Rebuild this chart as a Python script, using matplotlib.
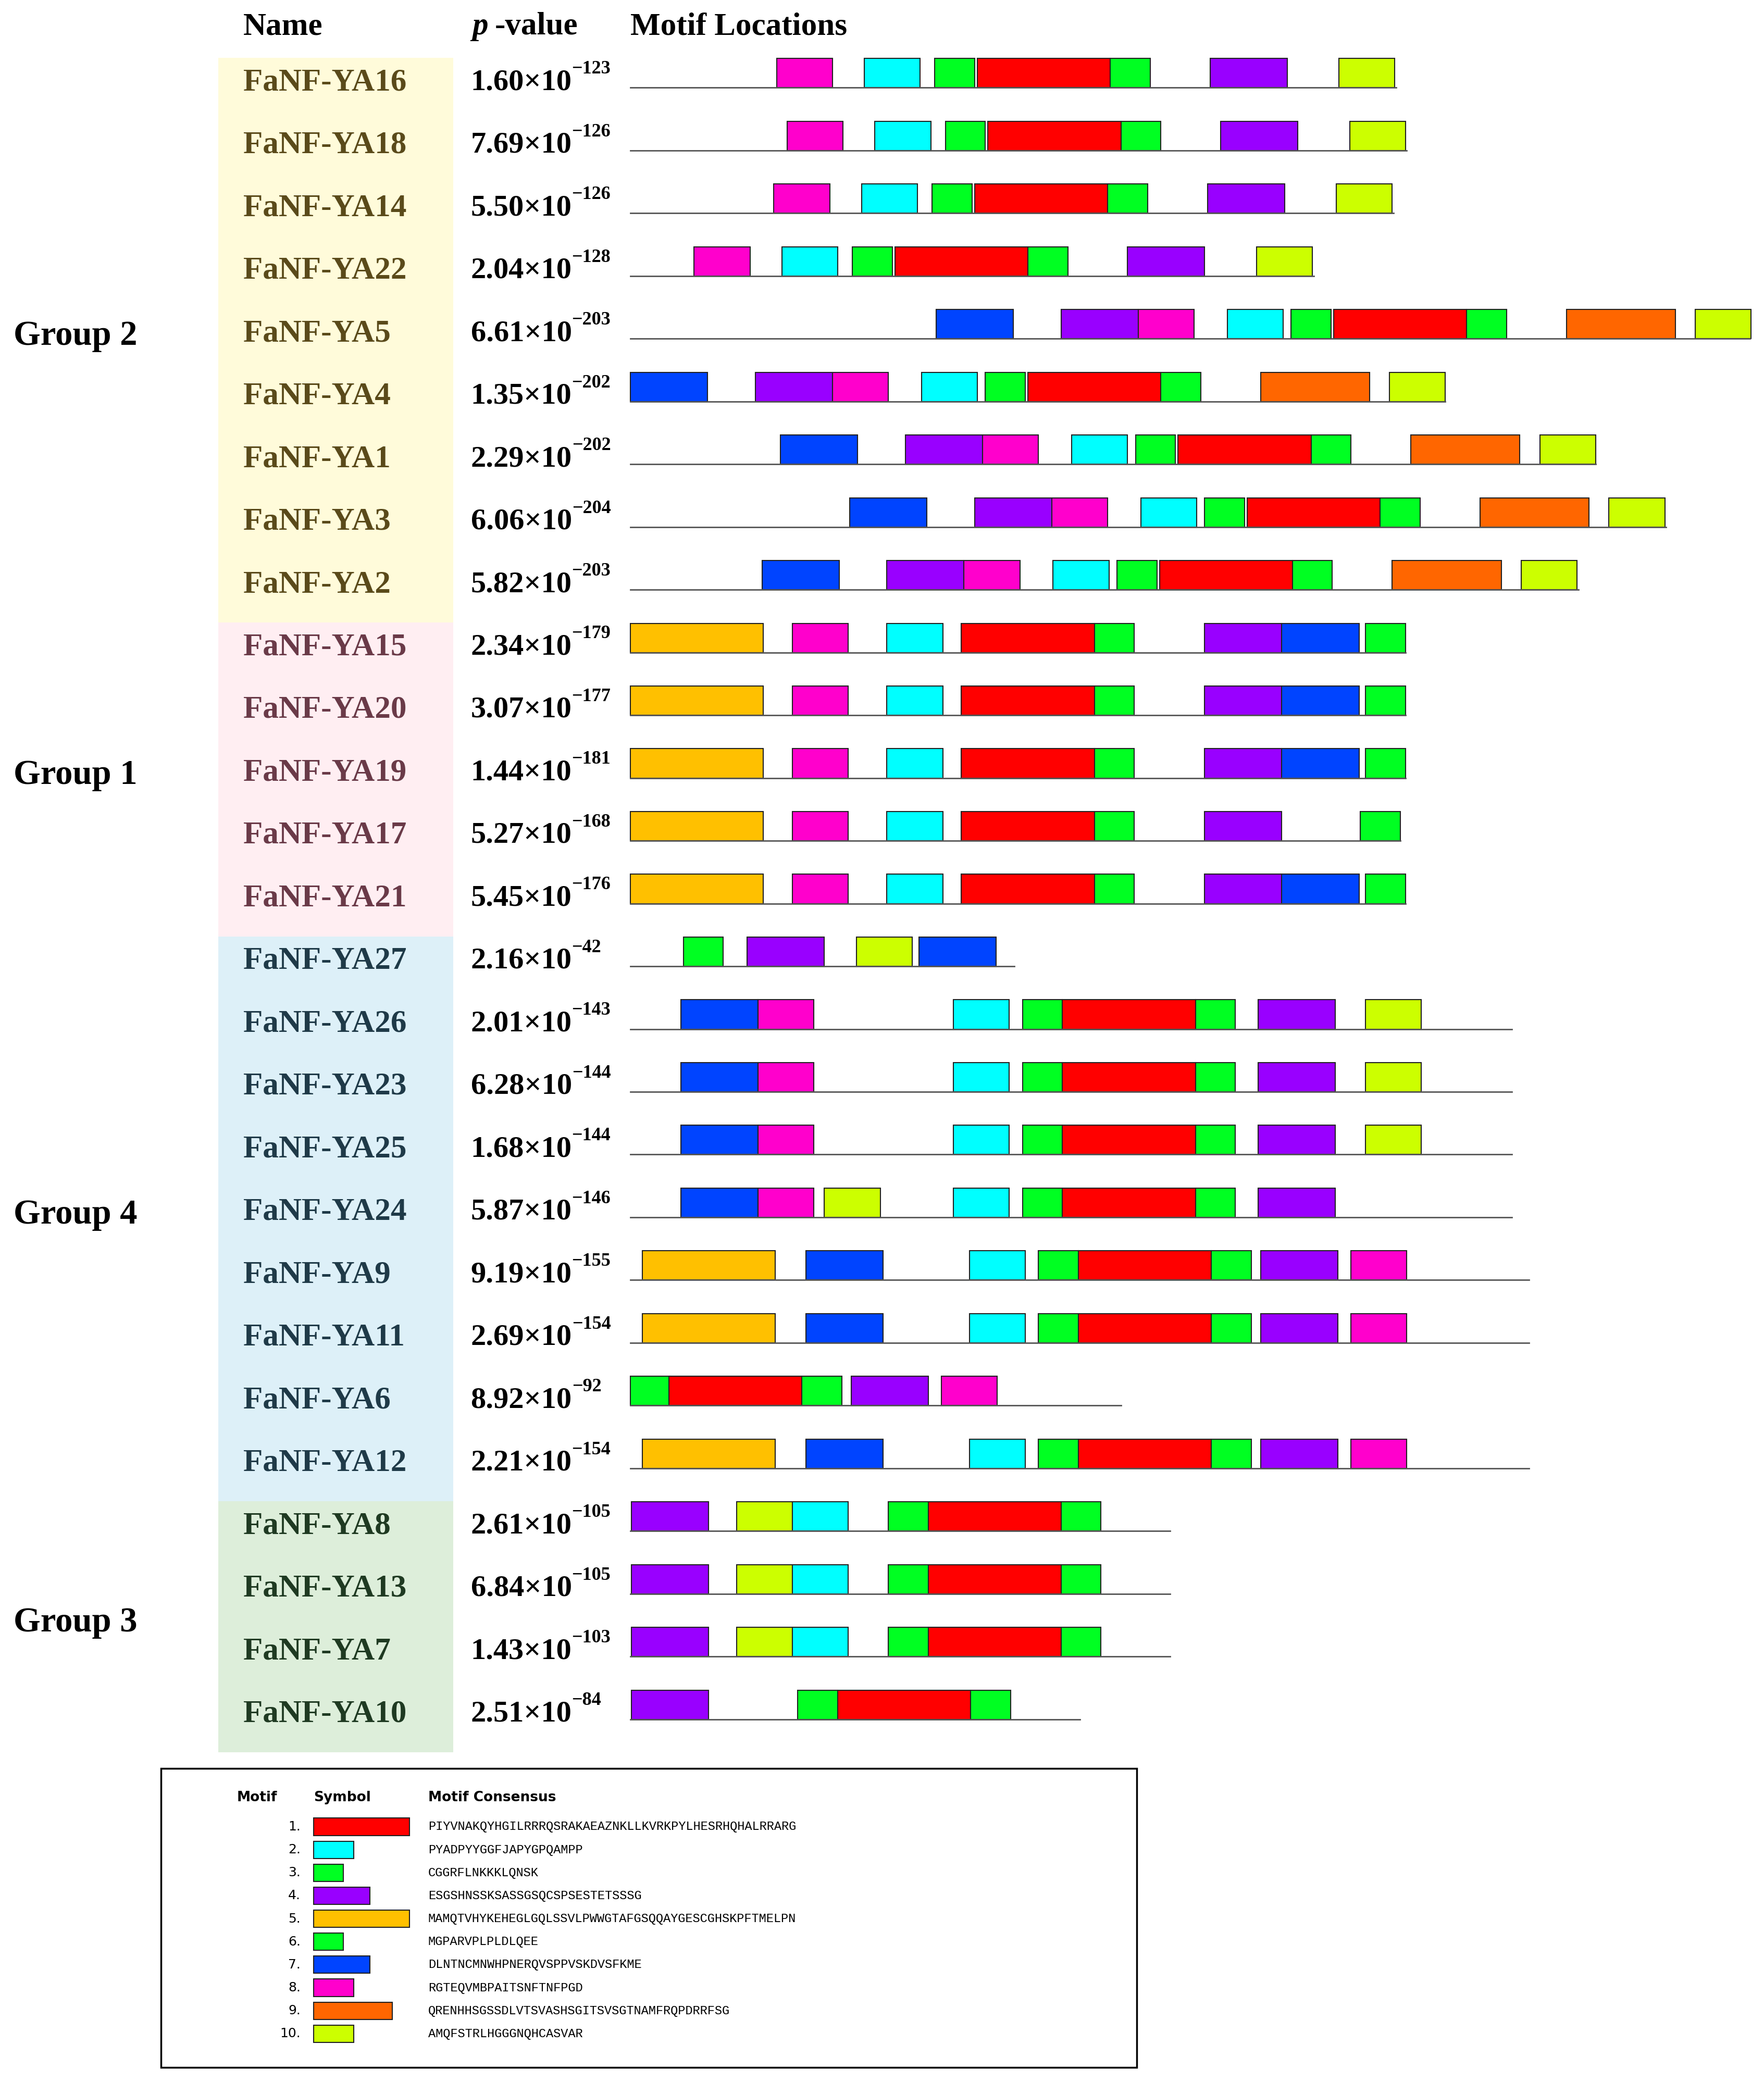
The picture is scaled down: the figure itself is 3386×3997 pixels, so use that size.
import matplotlib

matplotlib.use("Agg")
import matplotlib.pyplot as plt
from matplotlib.patches import Rectangle

# ---- data (positions in sequence units, line starts at 0) ----
GENES = ["FaNF-YA16", "FaNF-YA18", "FaNF-YA14", "FaNF-YA22", "FaNF-YA5", "FaNF-YA4",
         "FaNF-YA1", "FaNF-YA3", "FaNF-YA2",
         "FaNF-YA15", "FaNF-YA20", "FaNF-YA19", "FaNF-YA17", "FaNF-YA21",
         "FaNF-YA27", "FaNF-YA26", "FaNF-YA23", "FaNF-YA25", "FaNF-YA24", "FaNF-YA9",
         "FaNF-YA11", "FaNF-YA6", "FaNF-YA12",
         "FaNF-YA8", "FaNF-YA13", "FaNF-YA7", "FaNF-YA10"]
P_MANT = ["1.60", "7.69", "5.50", "2.04", "6.61", "1.35", "2.29", "6.06", "5.82",
          "2.34", "3.07", "1.44", "5.27", "5.45",
          "2.16", "2.01", "6.28", "1.68", "5.87", "9.19", "2.69", "8.92", "2.21",
          "2.61", "6.84", "1.43", "2.51"]
P_EXP = [123, 126, 126, 128, 203, 202, 202, 204, 203,
         179, 177, 181, 168, 176,
         42, 143, 144, 144, 146, 155, 154, 92, 154,
         105, 105, 103, 84]
SEQ_LEN = [576, 584, 574, 514, 842, 613, 726, 779, 713,
           583, 583, 583, 579, 583,
           289, 663, 663, 663, 663, 676, 676, 369, 676,
           406, 406, 406, 338]

_G2 = [(8, 110), (2, 176), (3, 229), (1, 261), (3, 361), (4, 436), (10, 533)]
_G2b = [(7, 0), (4, 94), (8, 152), (2, 219), (3, 267), (1, 299), (3, 399), (9, 474), (10, 571)]
_G1 = [(5, 0), (8, 122), (2, 193), (1, 249), (3, 349), (4, 432), (7, 490), (6, 553)]
_G4 = [(7, 38), (8, 96), (2, 243), (3, 295), (1, 325), (3, 425), (4, 472), (10, 553)]
_G4b = [(5, 9), (7, 132), (2, 255), (3, 307), (1, 337), (3, 437), (4, 474), (8, 542)]
_G3 = [(4, 1), (10, 80), (2, 122), (3, 194), (1, 224), (3, 324)]
MOTIFS = [
    _G2, [(m, s + 8) for m, s in _G2], [(m, s - 2) for m, s in _G2], [(m, s - 62) for m, s in _G2],
    [(m, s + 230) for m, s in _G2b], _G2b, [(m, s + 113) for m, s in _G2b],
    [(m, s + 165) for m, s in _G2b], [(m, s + 99) for m, s in _G2b],
    _G1, _G1, _G1, [(5, 0), (8, 122), (2, 193), (1, 249), (3, 349), (4, 432), (6, 549)], _G1,
    [(3, 40), (4, 88), (10, 170), (7, 217)],
    _G4, _G4, _G4,
    [(7, 38), (8, 96), (10, 146), (2, 243), (3, 295), (1, 325), (3, 425), (4, 472)],
    _G4b, _G4b, [(3, 0), (1, 29), (3, 129), (4, 166), (8, 234)], _G4b,
    _G3, _G3, _G3, [(4, 1), (3, 126), (1, 156), (3, 256)],
]
MOTIF_WIDTH = {1: 100, 2: 42, 3: 30, 4: 58, 5: 100, 6: 30, 7: 58, 8: 42, 9: 82, 10: 42}
MOTIF_COLOR = {1: "#FF0000", 2: "#00FFFF", 3: "#00FF22", 4: "#9900FF", 5: "#FFC000",
               6: "#00FF22", 7: "#0044FF", 8: "#FF00CC", 9: "#FF6600", 10: "#CCFF00"}
CONSENSUS = [
    "PIYVNAKQYHGILRRRQSRAKAEAZNKLLKVRKPYLHESRHQHALRRARG",
    "PYADPYYGGFJAPYGPQAMPP",
    "CGGRFLNKKKLQNSK",
    "ESGSHNSSKSASSGSQCSPSESTETSSSG",
    "MAMQTVHYKEHEGLGQLSSVLPWWGTAFGSQQAYGESCGHSKPFTMELPN",
    "MGPARVPLPLDLQEE",
    "DLNTNCMNWHPNERQVSPPVSKDVSFKME",
    "RGTEQVMBPAITSNFTNFPGD",
    "QRENHHSGSSDLVTSVASHSGITSVSGTNAMFRQPDRRFSG",
    "AMQFSTRLHGGGNQHCASVAR",
]
LEGEND_WIDTH = [72, 30, 22, 42, 72, 22, 42, 30, 59, 30]
GROUPS = [("Group 2", 0, 9, "#FFFBDA", "#5A4A1A"),
          ("Group 1", 9, 14, "#FFEEF2", "#6A3A48"),
          ("Group 4", 14, 23, "#DDF0F8", "#1F3A48"),
          ("Group 3", 23, 27, "#DDEEDA", "#1F3A22")]

SERIF = "Liberation Serif"
W, H = 1327, 1566
fig = plt.figure(figsize=(33.87, 39.97), dpi=100)
ax = fig.add_axes([0, 0, 1, 1])
ax.set_xlim(0, W)
ax.set_ylim(H, 0)
ax.axis("off")

X0, ROW0, DY, BH = 474, 66, 47.2, 22

ax.text(183, 20, "Name", fontsize=44, fontweight="bold", family=SERIF, va="center")
ax.text(355, 20, "p", fontsize=44, fontweight="bold", style="italic", family=SERIF, va="center")
ax.text(372, 20, "-value", fontsize=44, fontweight="bold", family=SERIF, va="center")
ax.text(474, 20, "Motif Locations", fontsize=44, fontweight="bold", family=SERIF, va="center")

for label, a, b, bg, fg in GROUPS:
    top = ROW0 - BH - 0.5 + a * DY
    bot = ROW0 - BH - 0.5 + b * DY
    ax.add_patch(Rectangle((164, top), 177, bot - top, facecolor=bg, edgecolor="none"))
    ax.text(10, (top + bot) / 2 - 3, label, fontsize=48, fontweight="bold", family=SERIF, va="center")
    for i in range(a, b):
        ax.text(183, ROW0 + i * DY - 4, GENES[i], fontsize=44, fontweight="bold",
                family=SERIF, color=fg, va="center")

fig.canvas.draw()
r = fig.canvas.get_renderer()
inv = ax.transData.inverted()
for i, gene in enumerate(GENES):
    y = ROW0 + i * DY
    t = ax.text(354, y - 4, P_MANT[i] + "×10", fontsize=42, fontweight="bold",
                family=SERIF, va="center")
    x1 = inv.transform(t.get_window_extent(r).get_points()[1])[0]
    ax.text(x1, y - 14, "−%d" % P_EXP[i], fontsize=26, fontweight="bold",
            family=SERIF, va="center")
    ax.plot([X0, X0 + SEQ_LEN[i]], [y, y], color="#555555", lw=2)
    for m, s in MOTIFS[i]:
        ax.add_patch(Rectangle((X0 + s, y - BH), MOTIF_WIDTH[m], BH,
                               facecolor=MOTIF_COLOR[m], edgecolor="#222222", lw=1.5))

# legend box
ax.add_patch(Rectangle((121, 1330), 734, 225, facecolor="none", edgecolor="black", lw=2.5))
ax.text(178, 1352, "Motif", fontsize=19, fontweight="bold", va="center")
ax.text(236, 1352, "Symbol", fontsize=19, fontweight="bold", va="center")
ax.text(322, 1352, "Motif Consensus", fontsize=19, fontweight="bold", va="center")
for k in range(10):
    y = 1374 + k * 17.3
    ax.text(226, y, "%d." % (k + 1), fontsize=18, ha="right", va="center")
    ax.add_patch(Rectangle((236, y - 6.5), LEGEND_WIDTH[k], 13,
                           facecolor=MOTIF_COLOR[k + 1], edgecolor="#222222", lw=1.5))
    ax.text(322, y, CONSENSUS[k], fontsize=17, family="Liberation Mono", va="center")

fig.savefig("out.png", dpi=100, facecolor="white")
